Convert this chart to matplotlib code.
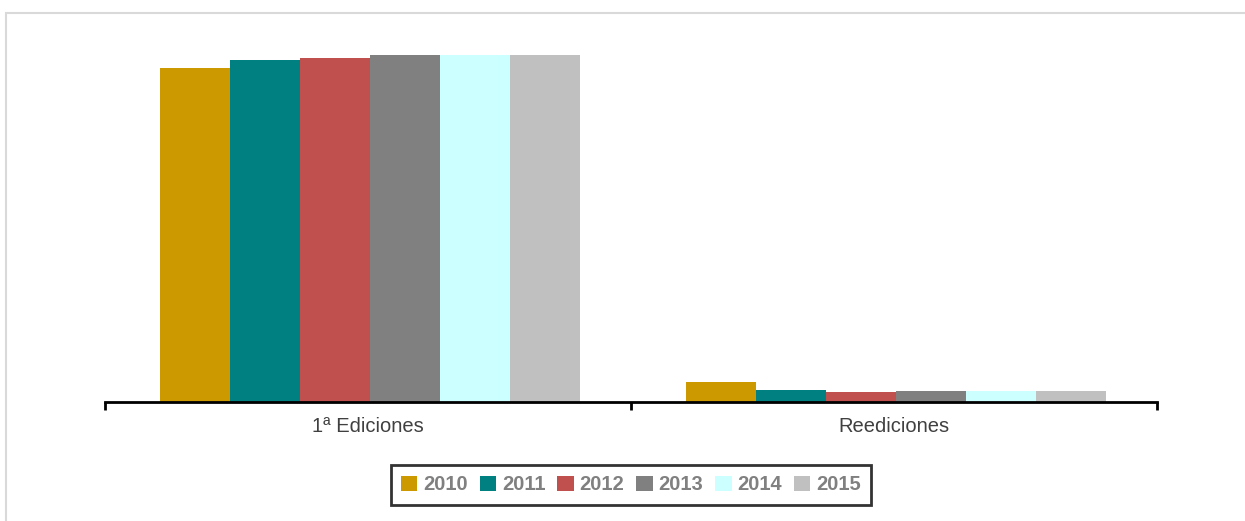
import matplotlib.pyplot as plt
import numpy as np
from matplotlib.patches import Rectangle

plt.rcParams['font.family'] = ['Liberation Sans', 'DejaVu Sans']

categories = ['1ª Ediciones', 'Reediciones']
years = ['2010', '2011', '2012', '2013', '2014', '2015']
values = {
    '2010': [334, 20],
    '2011': [342, 12],
    '2012': [344, 10],
    '2013': [347, 11.5],
    '2014': [347, 11],
    '2015': [347, 11],
}
colors = ['#cc9900', '#008080', '#c0504d', '#808080', '#ccffff', '#c0c0c0']

W, H = 1245, 521
fig = plt.figure(figsize=(W / 100, H / 100), dpi=100)
ax = fig.add_axes([105 / W, (H - 402) / H, (1157 - 105) / W, (402 - 30) / H])

x = np.arange(len(categories))
bw = 70 / 526
for i, (yr, c) in enumerate(zip(years, colors)):
    ax.bar(x + (i - 2.5) * bw + 2 / 526, values[yr], bw, color=c, label=yr)

ax.set_xlim(-0.5, 1.5)
ax.set_ylim(0, 372)
for s in ['top', 'right', 'left']:
    ax.spines[s].set_visible(False)
ax.spines['bottom'].set_linewidth(2)
ax.set_yticks([])
ax.set_xticks([-0.5, 0.5, 1.5])
ax.set_xticklabels([])
ax.tick_params(axis='x', which='major', length=6, width=2, direction='out')
ax.set_xticks(x, minor=True)
ax.set_xticklabels(categories, minor=True, fontsize=14.5, color='#404040')
ax.tick_params(axis='x', which='minor', length=0, pad=11)

leg = fig.legend(loc='center', bbox_to_anchor=(631 / W, (H - 485) / H), ncol=6,
                 frameon=True, fancybox=False, fontsize=14.5, handlelength=0.8,
                 handleheight=0.8, handletextpad=0.3, columnspacing=0.6,
                 borderpad=0.5)
leg.get_frame().set_edgecolor('black')
leg.get_frame().set_linewidth(2)
for t in leg.get_texts():
    t.set_color('#808080')
    t.set_fontweight('bold')

fig.patches.append(Rectangle((6 / W, -0.1), 1.2, (H - 13) / H + 0.1,
                             transform=fig.transFigure, fill=False,
                             edgecolor='#d9d9d9', linewidth=1.5))

fig.savefig('out.png', dpi=100)
